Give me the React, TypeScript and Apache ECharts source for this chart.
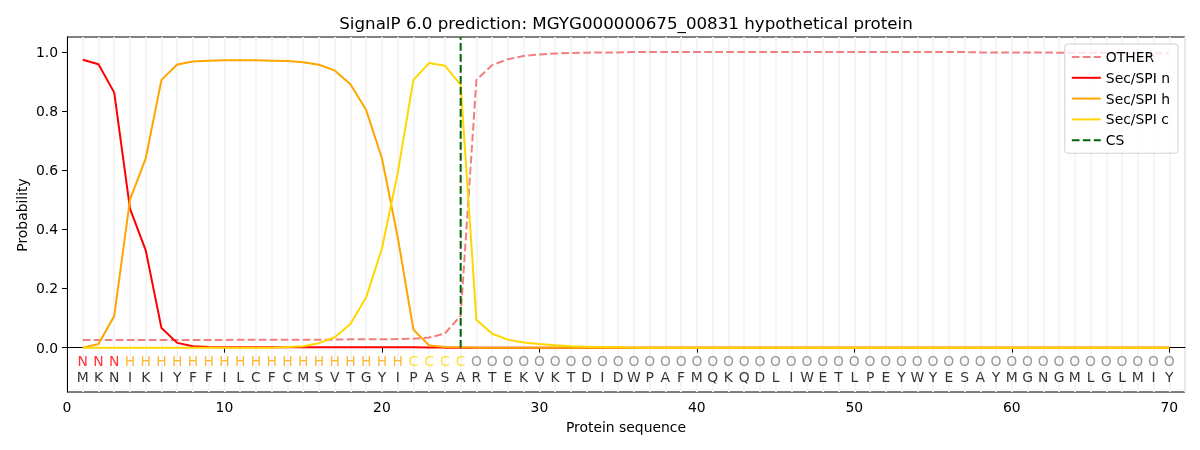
import React, { useEffect, useRef } from "react";
import * as echarts from "echarts";

const positions: number[] = [];
for (let i = 1; i <= 70; i++) positions.push(i);

const residues = "MKNIKIYFFILCFCMSVTGYIPASARTEKVKTDIDWPAFMQKQDLIWETLPEYWYESAYMGNGMLGLMIY".split("");
const regions = ("NNN" + "HHHHHHHHHHHHHHHHHH" + "CCCC" + "O".repeat(45)).split("");

const otherProb = [
  0.026, 0.026, 0.026, 0.026, 0.026, 0.026, 0.026, 0.026, 0.026, 0.026,
  0.027, 0.027, 0.027, 0.027, 0.027, 0.027, 0.027, 0.028, 0.028, 0.028,
  0.029, 0.030, 0.034, 0.048, 0.108, 0.905, 0.955, 0.975, 0.986, 0.991,
  0.994, 0.996, 0.997, 0.998, 0.998, 0.999, 0.999, 0.999, 0.999, 0.999,
  0.999, 0.999, 0.999, 0.999, 0.999, 0.999, 0.999, 0.999, 0.999, 0.999,
  0.999, 0.999, 0.999, 0.999, 0.999, 0.999, 0.999, 0.998, 0.998, 0.998,
  0.998, 0.998, 0.997, 0.997, 0.997, 0.996, 0.996, 0.996, 0.995, 0.995,
];
const nProb = [
  0.973, 0.958, 0.862, 0.47, 0.329, 0.066, 0.016, 0.005, 0.002, 0.001,
  0.001, 0.001, 0.001, 0.001, 0.001, 0.001, 0.001, 0.001, 0.001, 0.001,
  0.001, 0.001, 0.0005, 0, 0, 0, 0, 0, 0, 0,
  0, 0, 0, 0, 0, 0, 0, 0, 0, 0,
  0, 0, 0, 0, 0, 0, 0, 0, 0, 0,
  0, 0, 0, 0, 0, 0, 0, 0, 0, 0,
  0, 0, 0, 0, 0, 0, 0, 0, 0, 0,
];
const hProb = [
  0.0, 0.012, 0.107, 0.5, 0.64, 0.905, 0.957, 0.967, 0.97, 0.971,
  0.971, 0.971, 0.97, 0.969, 0.965, 0.956, 0.937, 0.89, 0.803, 0.64,
  0.374, 0.061, 0.007, 0.002, 0.001, 0, 0, 0, 0, 0,
  0, 0, 0, 0, 0, 0, 0, 0, 0, 0,
  0, 0, 0, 0, 0, 0, 0, 0, 0, 0,
  0, 0, 0, 0, 0, 0, 0, 0, 0, 0,
  0, 0, 0, 0, 0, 0, 0, 0, 0, 0,
];
const cProb = [
  0, 0, 0, 0, 0, 0, 0, 0, 0, 0,
  0, 0, 0, 0.002, 0.005, 0.015, 0.035, 0.08, 0.17, 0.335,
  0.589, 0.905, 0.962, 0.953, 0.888, 0.094, 0.047, 0.027, 0.017, 0.012,
  0.008, 0.005, 0.003, 0.002, 0.001, 0, 0, 0, 0, 0,
  0, 0, 0, 0, 0, 0, 0, 0, 0, 0,
  0, 0, 0, 0, 0, 0, 0, 0, 0, 0,
  0, 0, 0, 0, 0, 0, 0, 0, 0, 0,
];
const csPosition = 25;
const xTicks = [0, 10, 20, 30, 40, 50, 60, 70];
const yTicks = [0, 0.2, 0.4, 0.6, 0.8, 1.0];

const regionColors: Record<string, string> = {
  N: "#ff0000",
  H: "#ffa500",
  C: "#ffd700",
  O: "#808080",
};

const FONT = "DejaVu Sans";
const FS = 13.9;

export default function App() {
  const ref = useRef<HTMLDivElement>(null);
  useEffect(() => {
    if (!ref.current) return;
    const chart = echarts.init(ref.current, undefined, { renderer: "svg" });
    const dash = [7.7, 3.3];
    const gridL = 67, gridR = 15, gridT = 37, gridB = 58;
    chart.setOption({
      animation: false,
      textStyle: { fontFamily: FONT },
      grid: {
        left: gridL, right: gridR, top: gridT, bottom: gridB,
        show: true, borderColor: "#000", borderWidth: 1, backgroundColor: "transparent",
      },
      graphic: [
        {
          type: "text", x: 626, y: 23,
          style: { text: "SignalP 6.0 prediction: MGYG000000675_00831 hypothetical protein", fontSize: 16.7, fontFamily: FONT, fill: "#000", textAlign: "center", textVerticalAlign: "middle" },
        },
        {
          type: "text", x: 626, y: 427,
          style: { text: "Protein sequence", fontSize: FS, fontFamily: FONT, fill: "#000", textAlign: "center", textVerticalAlign: "middle" },
        },
        {
          type: "text", x: 22, y: 215, rotation: Math.PI / 2,
          style: { text: "Probability", fontSize: FS, fontFamily: FONT, fill: "#000", textAlign: "center", textVerticalAlign: "middle" },
        },
      ],
      legend: {
        data: ["OTHER", "Sec/SPI n", "Sec/SPI h", "Sec/SPI c", "CS"],
        orient: "vertical",
        right: 22, top: 44,
        itemWidth: 29, itemHeight: 14, itemGap: 6.8, itemTextGap: 12,
        padding: [6, 8, 6, 6],
        itemStyle: { opacity: 0 },
        backgroundColor: "rgba(255,255,255,0.8)",
        borderColor: "#d0d0d0", borderWidth: 1, borderRadius: 3,
        textStyle: { fontSize: FS, fontFamily: FONT, color: "#000" },
      },
      xAxis: [
        {
          type: "value", min: 0, max: 71, interval: 10,
          axisLine: { show: true, lineStyle: { color: "#000" } },
          axisTick: { show: true, length: 5, inside: false, customValues: xTicks, lineStyle: { color: "#000" } },
          axisLabel: { show: true, margin: 8, fontSize: FS, fontFamily: FONT, color: "#000", customValues: xTicks },
          splitLine: { show: false },
        },
        {
          type: "value", min: 0, max: 71, interval: 1, position: "bottom",
          axisLine: { show: false }, axisTick: { show: false }, axisLabel: { show: false },
          splitLine: { show: true, lineStyle: { color: "#f4f4f4", width: 1.8 } },
        },
      ],
      yAxis: {
        type: "value", min: -0.15, max: 1.05,
        axisLine: { show: true, lineStyle: { color: "#000" } },
        axisTick: { show: true, length: 5, inside: false, customValues: yTicks, lineStyle: { color: "#000" } },
        axisLabel: {
          show: true, margin: 9, fontSize: FS, fontFamily: FONT, color: "#000", customValues: yTicks,
          formatter: (v: number) => v.toFixed(1),
        },
        splitLine: { show: false },
      },
      series: [
        {
          name: "OTHER", type: "line", symbol: "none", z: 3,
          data: positions.map((p, i) => [p, otherProb[i]]),
          lineStyle: { color: "#f08080", width: 2, type: dash },
          itemStyle: { color: "#f08080" },
        },
        {
          name: "Sec/SPI n", type: "line", symbol: "none", z: 3,
          data: positions.map((p, i) => [p, nProb[i]]),
          lineStyle: { color: "#ff0000", width: 2 },
          itemStyle: { color: "#ff0000" },
        },
        {
          name: "Sec/SPI h", type: "line", symbol: "none", z: 3,
          data: positions.map((p, i) => [p, hProb[i]]),
          lineStyle: { color: "#ffa500", width: 2 },
          itemStyle: { color: "#ffa500" },
        },
        {
          name: "Sec/SPI c", type: "line", symbol: "none", z: 3,
          data: positions.map((p, i) => [p, cProb[i]]),
          lineStyle: { color: "#ffd700", width: 2 },
          itemStyle: { color: "#ffd700" },
        },
        {
          name: "CS", type: "line", symbol: "none", z: 4,
          data: [[csPosition, 0], [csPosition, 1.05]],
          lineStyle: { color: "#006400", width: 2, type: dash },
          itemStyle: { color: "#006400" },
        },
        {
          name: "regions", type: "scatter", symbolSize: 1, z: 5,
          itemStyle: { color: "rgba(0,0,0,0)" },
          label: { show: true, position: "inside", formatter: "{b}", fontSize: FS, fontFamily: FONT },
          data: positions.map((p, i) => ({
            name: regions[i], value: [p, -0.045],
            label: { color: regionColors[regions[i]] },
          })),
        },
        {
          name: "residues", type: "scatter", symbolSize: 1, z: 5,
          itemStyle: { color: "rgba(0,0,0,0)" },
          label: { show: true, position: "inside", formatter: "{b}", fontSize: FS, fontFamily: FONT, color: "#000" },
          data: positions.map((p, i) => ({ name: residues[i], value: [p, -0.099] })),
        },
      ],
    });
    return () => chart.dispose();
  }, []);
  return <div ref={ref} style={{ position: "fixed", left: 0, top: 0, width: 1200, height: 450 }} />;
}
